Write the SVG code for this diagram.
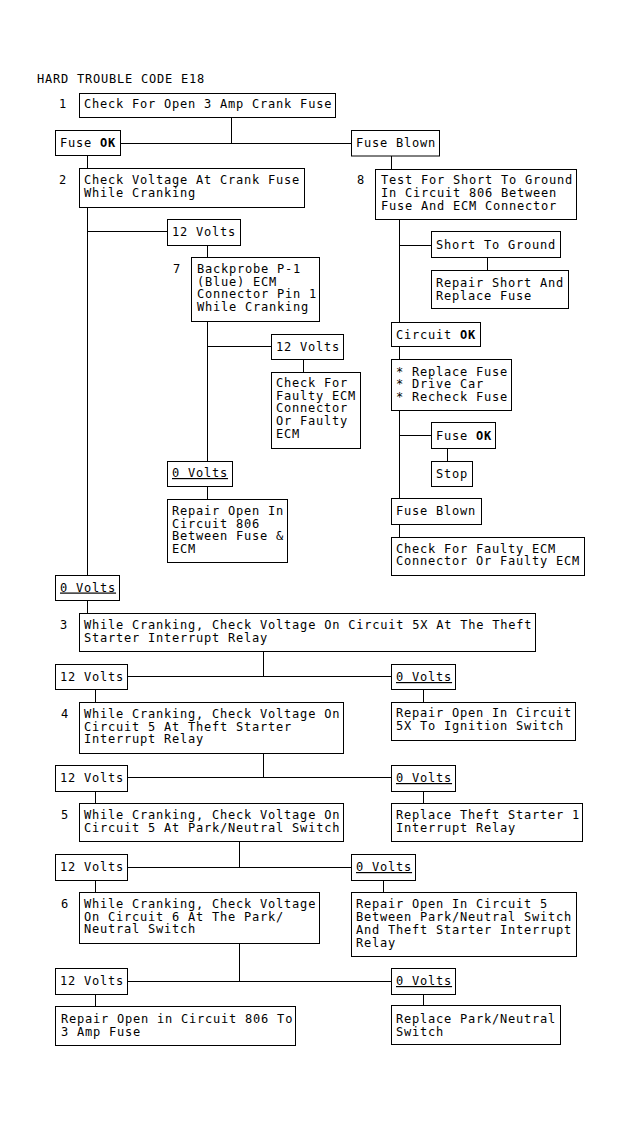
<svg xmlns="http://www.w3.org/2000/svg" width="622" height="1121" viewBox="0 0 622 1121">
<style>
.b{fill:#fff;stroke:#000;stroke-width:1}
.t{font-family:"DejaVu Sans Mono",monospace;font-size:12px;letter-spacing:0.78px;fill:#000}
.u{text-decoration:underline}
.k{font-weight:bold}
.c path{fill:none;stroke:#000;stroke-width:1}
</style>
<rect x="0" y="0" width="622" height="1121" fill="#fff"/>
<text class="t" x="37" y="83">HARD TROUBLE CODE E18</text>
<g class="c" id="connectors">
<path d="M231.5 117.5V143.5M120.5 143.5H351.5"/>
<path d="M87.5 155.5V168.5M87.5 207.5V575.5M87.5 231.5H167.5"/>
<path d="M391.5 156V169.5"/>
<path d="M399.5 219.5V322.5M399.5 245.5H431.5M487.5 257.5V270.5"/>
<path d="M207.5 245.5V257.5M207.5 321.5V461.5M207.5 346.5H271.5M303.5 359.5V372.5M207.5 486.5V499.5"/>
<path d="M399.5 346.5V359.5M399.5 410.5V498.5M399.5 435.5H431.5M447.5 448.5V461.5M399.5 524.5V537.5"/>
<path d="M87.5 600.5V613.5"/>
<path d="M263.5 651.5V676.5M127.5 676.5H391.5M95.5 689.5V702.5M423.5 689.5V702.5"/>
<path d="M263.5 753.5V777.5M127.5 777.5H391.5M95.5 791.5V803.5M423.5 791.5V803.5"/>
<path d="M239.5 841.5V867.5M127.5 867.5H351.5M95.5 880.5V892.5M383.5 880.5V892.5"/>
<path d="M239.5 943.5V981.5M127.5 981.5H391.5M95.5 994.5V1006.5M423.5 994.5V1005.5"/>
</g>
<g id="n1"><text class="t" x="59" y="108">1</text><rect class="b" x="79.5" y="93.5" width="256" height="24"/><text class="t" x="84" y="108">Check For Open 3 Amp Crank Fuse</text></g>
<g id="fuseok1"><rect class="b" x="55.5" y="130.5" width="65" height="25"/><text class="t" x="60" y="147">Fuse <tspan class="k">OK</tspan></text></g>
<g id="fuseblown1"><rect class="b" x="351.5" y="130.5" width="88" height="25.5"/><text class="t" x="356" y="147">Fuse Blown</text></g>
<g id="n2"><text class="t" x="59" y="184">2</text><rect class="b" x="79.5" y="168.5" width="225" height="39"/><text class="t"><tspan x="84" y="184">Check Voltage At Crank Fuse</tspan><tspan x="84" y="197">While Cranking</tspan></text></g>
<g id="n8"><text class="t" x="357" y="184">8</text><rect class="b" x="375.5" y="169.5" width="201" height="50"/><text class="t"><tspan x="381" y="184">Test For Short To Ground</tspan><tspan x="381" y="197">In Circuit 806 Between</tspan><tspan x="381" y="210">Fuse And ECM Connector</tspan></text></g>
<g id="stg"><rect class="b" x="431.5" y="231.5" width="129" height="26"/><text class="t" x="436" y="249">Short To Ground</text></g>
<g id="repairshort"><rect class="b" x="431.5" y="270.5" width="137" height="38"/><text class="t"><tspan x="436" y="287">Repair Short And</tspan><tspan x="436" y="299.5">Replace Fuse</tspan></text></g>
<g id="v12a"><rect class="b" x="167.5" y="219.5" width="73" height="26"/><text class="t" x="172" y="236">12 Volts</text></g>
<g id="n7"><text class="t" x="173" y="273">7</text><rect class="b" x="191.5" y="257.5" width="128" height="64"/><text class="t"><tspan x="197" y="273">Backprobe P-1</tspan><tspan x="197" y="285.7">(Blue) ECM</tspan><tspan x="197" y="298.4">Connector Pin 1</tspan><tspan x="197" y="311.1">While Cranking</tspan></text></g>
<g id="v12b"><rect class="b" x="271.5" y="334.5" width="72" height="25"/><text class="t" x="276" y="351">12 Volts</text></g>
<g id="faulty1"><rect class="b" x="271.5" y="372.5" width="89" height="76"/><text class="t"><tspan x="276" y="387">Check For</tspan><tspan x="276" y="399.7">Faulty ECM</tspan><tspan x="276" y="412.4">Connector</tspan><tspan x="276" y="425.1">Or Faulty</tspan><tspan x="276" y="437.8">ECM</tspan></text></g>
<g id="v0a"><rect class="b" x="167.5" y="461.5" width="65" height="25"/><text class="t u" x="172" y="477">0 Volts</text></g>
<g id="repair806a"><rect class="b" x="167.5" y="499.5" width="120" height="63"/><text class="t"><tspan x="172" y="515">Repair Open In</tspan><tspan x="172" y="527.7">Circuit 806</tspan><tspan x="172" y="540.4">Between Fuse &amp;</tspan><tspan x="172" y="553.1">ECM</tspan></text></g>
<g id="circok"><rect class="b" x="391.5" y="322.5" width="89" height="24"/><text class="t" x="396" y="338.5">Circuit <tspan class="k">OK</tspan></text></g>
<g id="replacefuse"><rect class="b" x="391.5" y="359.5" width="120" height="51"/><text class="t"><tspan x="396" y="375.5">* Replace Fuse</tspan><tspan x="396" y="388">* Drive Car</tspan><tspan x="396" y="400.5">* Recheck Fuse</tspan></text></g>
<g id="fuseok2"><rect class="b" x="431.5" y="422.5" width="64" height="26"/><text class="t" x="436" y="439.5">Fuse <tspan class="k">OK</tspan></text></g>
<g id="stop"><rect class="b" x="431.5" y="461.5" width="41" height="25"/><text class="t" x="436" y="477.5">Stop</text></g>
<g id="fuseblown2"><rect class="b" x="391.5" y="498.5" width="90" height="26"/><text class="t" x="396" y="515">Fuse Blown</text></g>
<g id="faulty2"><rect class="b" x="391.5" y="537.5" width="193" height="38"/><text class="t"><tspan x="396" y="552.5">Check For Faulty ECM</tspan><tspan x="396" y="565">Connector Or Faulty ECM</tspan></text></g>
<g id="v0b"><rect class="b" x="55.5" y="575.5" width="64" height="25"/><text class="t u" x="60" y="591.5">0 Volts</text></g>
<g id="n3"><text class="t" x="60" y="629">3</text><rect class="b" x="79.5" y="613.5" width="456" height="38"/><text class="t"><tspan x="84" y="629">While Cranking, Check Voltage On Circuit 5X At The Theft</tspan><tspan x="84" y="641.5">Starter Interrupt Relay</tspan></text></g>
<g id="v12c"><rect class="b" x="55.5" y="664.5" width="72" height="25"/><text class="t" x="60" y="681">12 Volts</text></g>
<g id="v0c"><rect class="b" x="391.5" y="664.5" width="64" height="25"/><text class="t u" x="396" y="681">0 Volts</text></g>
<g id="n4"><text class="t" x="61" y="718">4</text><rect class="b" x="79.5" y="702.5" width="264" height="51"/><text class="t"><tspan x="84" y="718">While Cranking, Check Voltage On</tspan><tspan x="84" y="730.5">Circuit 5 At Theft Starter</tspan><tspan x="84" y="743">Interrupt Relay</tspan></text></g>
<g id="repair5x"><rect class="b" x="391.5" y="702.5" width="184" height="38"/><text class="t"><tspan x="396" y="717">Repair Open In Circuit</tspan><tspan x="396" y="730">5X To Ignition Switch</tspan></text></g>
<g id="v12d"><rect class="b" x="55.5" y="765.5" width="72" height="26"/><text class="t" x="60" y="782">12 Volts</text></g>
<g id="v0d"><rect class="b" x="391.5" y="765.5" width="64" height="26"/><text class="t u" x="396" y="782">0 Volts</text></g>
<g id="n5"><text class="t" x="61" y="819">5</text><rect class="b" x="79.5" y="803.5" width="264" height="38"/><text class="t"><tspan x="84" y="819">While Cranking, Check Voltage On</tspan><tspan x="84" y="832">Circuit 5 At Park/Neutral Switch</tspan></text></g>
<g id="replacetheft"><rect class="b" x="391.5" y="803.5" width="191" height="38"/><text class="t"><tspan x="396" y="819">Replace Theft Starter 1</tspan><tspan x="396" y="832">Interrupt Relay</tspan></text></g>
<g id="v12e"><rect class="b" x="55.5" y="854.5" width="72" height="26"/><text class="t" x="60" y="871">12 Volts</text></g>
<g id="v0e"><rect class="b" x="351.5" y="854.5" width="64" height="26"/><text class="t u" x="356" y="871">0 Volts</text></g>
<g id="n6"><text class="t" x="61" y="908">6</text><rect class="b" x="79.5" y="892.5" width="240" height="51"/><text class="t"><tspan x="84" y="908">While Cranking, Check Voltage</tspan><tspan x="84" y="920.5">On Circuit 6 At The Park/</tspan><tspan x="84" y="933">Neutral Switch</tspan></text></g>
<g id="repair5"><rect class="b" x="351.5" y="892.5" width="225" height="64"/><text class="t"><tspan x="356" y="907.5">Repair Open In Circuit 5</tspan><tspan x="356" y="920.5">Between Park/Neutral Switch</tspan><tspan x="356" y="933.5">And Theft Starter Interrupt</tspan><tspan x="356" y="946.5">Relay</tspan></text></g>
<g id="v12f"><rect class="b" x="55.5" y="968.5" width="72" height="26"/><text class="t" x="60" y="985">12 Volts</text></g>
<g id="v0f"><rect class="b" x="391.5" y="968.5" width="64" height="26"/><text class="t u" x="396" y="985">0 Volts</text></g>
<g id="repair806b"><rect class="b" x="55.5" y="1006.5" width="240" height="39"/><text class="t"><tspan x="61" y="1023">Repair Open in Circuit 806 To</tspan><tspan x="61" y="1035.5">3 Amp Fuse</tspan></text></g>
<g id="replacepn"><rect class="b" x="391.5" y="1005.5" width="169" height="39"/><text class="t"><tspan x="396" y="1023">Replace Park/Neutral</tspan><tspan x="396" y="1035.5">Switch</tspan></text></g>
</svg>
